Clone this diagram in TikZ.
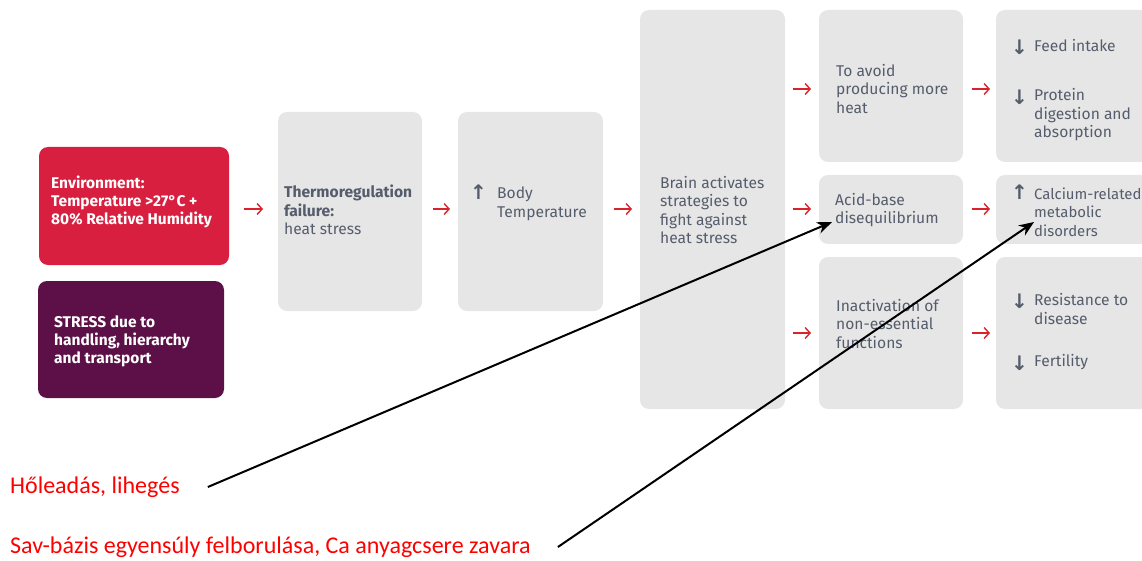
\documentclass[tikz,border=0pt]{standalone}
\usepackage{fontspec}
\setmainfont{Fira Sans}
\newfontfamily\annfont{Carlito}
\newfontfamily\symfont{DejaVu Sans}
\usetikzlibrary{arrows.meta,calc}
\definecolor{envred}{HTML}{D91F3F}
\definecolor{stresspurple}{HTML}{5C1047}
\definecolor{boxgrey}{HTML}{E6E6E6}
\definecolor{txtgrey}{HTML}{555C6C}
\definecolor{arrred}{HTML}{D8232A}
\definecolor{annred}{HTML}{FF0000}
\tikzset{
  shapebox/.style={rectangle, rounded corners=9pt, inner sep=0pt, outer sep=0pt, draw=none},
  greybox/.style={shapebox, fill=boxgrey},
  txt/.style={anchor=west, align=left, inner sep=0pt, text=txtgrey, font=\fontsize{15.6}{18.5}\selectfont},
  wtxt/.style={anchor=west, align=left, inner sep=0pt, text=white, font=\bfseries\fontsize{15.5}{18}\selectfont},
  sym/.style={anchor=west, inner sep=0pt, text=txtgrey, font=\symfont\bfseries\fontsize{20}{20}\selectfont},
  redarr/.style={draw=arrred, line width=1.4pt, -{Straight Barb[length=5pt,width=11pt,line width=1.4pt]}},
  blackarr/.style={draw=black, line width=2pt, -{Stealth[length=15pt,width=12pt]}},
  ann/.style={anchor=west, inner sep=0pt, text=annred, font=\annfont\fontsize{24}{26}\selectfont}
}
\begin{document}
\begin{tikzpicture}[x=1pt,y=-1pt]
\useasboundingbox (0,0) rectangle (1142,561);
% boxes
\node[shapebox, fill=envred, minimum width=190pt, minimum height=118pt] (env) at (134,206) {};
\node[shapebox, fill=stresspurple, minimum width=186pt, minimum height=117pt] (stress) at (131,339.5) {};
\node[greybox, minimum width=144pt, minimum height=199pt] (thermo) at (350,211.5) {};
\node[greybox, minimum width=145pt, minimum height=199pt] (body) at (530.5,211.5) {};
\node[greybox, minimum width=145pt, minimum height=399pt] (brain) at (712.5,209.5) {};
\node[greybox, minimum width=144pt, minimum height=152pt] (avoid) at (891,86) {};
\node[greybox, minimum width=144pt, minimum height=69pt] (acid) at (891,209.5) {};
\node[greybox, minimum width=144pt, minimum height=152pt] (inact) at (891,333) {};
\node[greybox, minimum width=160pt, minimum height=152pt] (feed) at (1076,86) {};
\node[greybox, minimum width=160pt, minimum height=69pt] (calc) at (1076,209.5) {};
\node[greybox, minimum width=160pt, minimum height=152pt] (resist) at (1076,333) {};
% texts
\node[wtxt] (envT) at (51,202) {Environment:\\Temperature >27\textdegree C +\\80\% Relative Humidity};
\node[wtxt] (stressT) at (54,341) {STRESS due to\\handling, hierarchy\\and transport};
\node[txt] (thermoT) at (284,210) {\textbf{Thermoregulation}\\\textbf{failure:}\\heat stress};
\node[sym] (bodyS) at (470,192) {↑};
\node[txt] (bodyT) at (497,204) {Body\\Temperature};
\node[txt] (brainT) at (660,210) {Brain activates\\strategies to\\fight against\\heat stress};
\node[txt] (avoidT) at (836,89) {To avoid\\producing more\\heat};
\node[txt] (acidT) at (835,210) {Acid-base\\disequilibrium};
\node[txt] (inactT) at (836,324) {Inactivation of\\non-essential\\functions};
\node[sym] (feedS) at (1011,47) {↓};
\node[txt] (feedT) at (1034,46) {Feed intake};
\node[sym] (protS) at (1011,97) {↓};
\node[txt] (protT) at (1034,115) {Protein\\digestion and\\absorption};
\node[sym] (calcS) at (1011,192) {↑};
\node[txt, font=\fontsize{14.9}{18.5}\selectfont] (calcT) at (1034,212) {Calcium-related\\metabolic\\disorders};
\node[sym] (resS) at (1011,301) {↓};
\node[txt] (resT) at (1034,309) {Resistance to\\disease};
\node[sym] (ferS) at (1011,363) {↓};
\node[txt] (ferT) at (1034,362) {Fertility};
% red arrows
\draw[redarr] ($(env.east |- 0,209)+(15,0)$) -- ($(thermo.west |- 0,209)+(-15,0)$);
\draw[redarr] ($(thermo.east |- 0,209)+(11,0)$) -- ($(body.west |- 0,209)+(-8,0)$);
\draw[redarr] ($(body.east |- 0,209)+(11,0)$) -- ($(brain.west |- 0,209)+(-8,0)$);
\draw[redarr] ($(brain.east |- 0,89)+(8,0)$) -- ($(avoid.west |- 0,89)+(-8,0)$);
\draw[redarr] ($(brain.east |- 0,209)+(8,0)$) -- ($(acid.west |- 0,209)+(-8,0)$);
\draw[redarr] ($(brain.east |- 0,333)+(8,0)$) -- ($(inact.west |- 0,333)+(-8,0)$);
\draw[redarr] ($(avoid.east |- 0,89)+(9,0)$) -- ($(feed.west |- 0,89)+(-6,0)$);
\draw[redarr] ($(acid.east |- 0,209)+(9,0)$) -- ($(calc.west |- 0,209)+(-6,0)$);
\draw[redarr] ($(inact.east |- 0,333)+(9,0)$) -- ($(resist.west |- 0,333)+(-6,0)$);
% annotations
\node[ann] (ann1) at (10,487) {Hőleadás, lihegés};
\node[ann] (ann2) at (10,547) {Sav-bázis egyensúly felborulása, Ca anyagcsere zavara};
\coordinate (tip1) at (832,222);
\coordinate (tip2) at (1034,222);
\draw[blackarr] ($(ann1.east)+(28,0)$) -- (tip1);
\draw[blackarr] ($(ann2.east)+(27,0)$) -- (tip2);
\end{tikzpicture}
\end{document}
